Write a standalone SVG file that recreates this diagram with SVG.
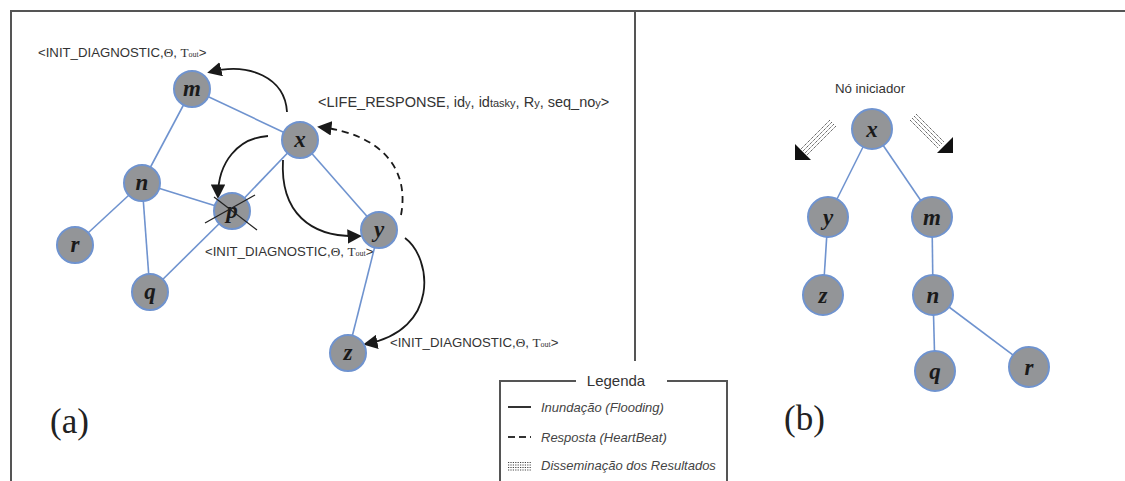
<svg xmlns="http://www.w3.org/2000/svg" width="1125" height="481" viewBox="0 0 1125 481">
  <defs>
    <style>
      .frame { stroke: #555; stroke-width: 2; fill: none; }
      .edge { stroke: #6f93cf; stroke-width: 1.6; fill: none; }
      .node circle { fill: #939598; stroke: #6f93cf; stroke-width: 2; }
      .node text { font-family: "Liberation Serif", serif; font-style: italic; font-weight: bold; font-size: 23px; fill: #1a1a1a; text-anchor: middle; }
      .arc { stroke: #1a1a1a; stroke-width: 1.8; fill: none; }
      .dash { stroke-dasharray: 7 5; }
      .lbl { font-family: "Liberation Sans", Arial, sans-serif; font-size: 13.2px; fill: #333; }
      .lbl.big { font-size: 14.5px; }
      .sub { font-family: "Liberation Serif", serif; }
      .cap { font-family: "Liberation Serif", serif; font-size: 35px; fill: #222; }
      .leg { font-family: "Liberation Sans", Arial, sans-serif; font-size: 13px; fill: #444; font-style: italic; }
      .hatch { stroke: #333; stroke-width: 0.9; stroke-dasharray: 1.2 0.8; }
    </style>
    <marker id="ahb" viewBox="0 0 10 10" refX="8" refY="5" markerWidth="8" markerHeight="8" orient="auto">
      <path d="M0,0 L10,5 L0,10 z" fill="#1a1a1a"/>
    </marker>
  </defs>

  <rect width="1125" height="481" fill="#ffffff"/>

  <!-- outer frame and panel divider -->
  <g id="frame">
    <line class="frame" x1="10" y1="11" x2="1125" y2="11"/>
    <line class="frame" x1="11" y1="10" x2="11" y2="481"/>
    <line class="frame" x1="635" y1="11" x2="635" y2="361"/>
  </g>

  <!-- panel (a): network edges -->
  <g id="edges-a">
    <line class="edge" x1="192" y1="89" x2="300" y2="140"/>
    <line class="edge" x1="192" y1="89" x2="142" y2="183"/>
    <line class="edge" x1="142" y1="183" x2="75" y2="245"/>
    <line class="edge" x1="142" y1="183" x2="150" y2="292"/>
    <line class="edge" x1="142" y1="183" x2="232" y2="211"/>
    <line class="edge" x1="232" y1="211" x2="300" y2="140"/>
    <line class="edge" x1="150" y1="292" x2="232" y2="211"/>
    <line class="edge" x1="300" y1="140" x2="379" y2="230"/>
    <line class="edge" x1="379" y1="230" x2="348" y2="353"/>
  </g>

  <!-- panel (a): message arcs -->
  <g id="connectors-a">
    <path class="arc" d="M287,112 C285,78 250,62 210,72" marker-end="url(#ahb)"/>
    <path class="arc" d="M268,136 C238,138 218,162 218,196" marker-end="url(#ahb)"/>
    <path class="arc" d="M283,160 C280,212 310,238 359,236" marker-end="url(#ahb)"/>
    <path class="arc dash" d="M401,215 C410,168 380,134 320,127" marker-end="url(#ahb)"/>
    <path class="arc" d="M405,238 C432,258 440,330 366,344" marker-end="url(#ahb)"/>
  </g>

  <!-- panel (a): nodes -->
  <g id="node-a-m" class="node"><circle cx="192" cy="89" r="18"/><text x="192" y="96">m</text></g>
  <g id="node-a-x" class="node"><circle cx="300" cy="140" r="18"/><text x="300" y="147">x</text></g>
  <g id="node-a-n" class="node"><circle cx="142" cy="183" r="18"/><text x="142" y="190">n</text></g>
  <g id="node-a-p" class="node"><circle cx="232" cy="211" r="18"/><text x="232" y="218">p</text>
    <line x1="205" y1="223" x2="255" y2="195" stroke="#222" stroke-width="1.3"/>
    <line x1="214" y1="197" x2="257" y2="230" stroke="#222" stroke-width="1.3"/>
  </g>
  <g id="node-a-r" class="node"><circle cx="75" cy="245" r="18"/><text x="75" y="252">r</text></g>
  <g id="node-a-q" class="node"><circle cx="150" cy="292" r="18"/><text x="150" y="299">q</text></g>
  <g id="node-a-y" class="node"><circle cx="379" cy="230" r="18"/><text x="379" y="237">y</text></g>
  <g id="node-a-z" class="node"><circle cx="348" cy="353" r="18"/><text x="348" y="360">z</text></g>

  <!-- panel (a): message labels -->
  <g id="labels-a">
    <text class="lbl" x="38" y="57">&lt;INIT_DIAGNOSTIC,<tspan class="sub">Θ</tspan>, <tspan class="sub">T</tspan><tspan class="sub" font-size="8">out</tspan>&gt;</text>
    <text class="lbl big" x="318" y="107">&lt;LIFE_RESPONSE, id<tspan font-size="11">y</tspan>, id<tspan font-size="11">tasky</tspan>, R<tspan font-size="11">y</tspan>, seq_no<tspan font-size="11">y</tspan>&gt;</text>
    <text class="lbl" x="205" y="256">&lt;INIT_DIAGNOSTIC,<tspan class="sub">Θ</tspan>, <tspan class="sub">T</tspan><tspan class="sub" font-size="8">out</tspan>&gt;</text>
    <text class="lbl" x="390" y="347">&lt;INIT_DIAGNOSTIC,<tspan class="sub">Θ</tspan>, <tspan class="sub">T</tspan><tspan class="sub" font-size="8">out</tspan>&gt;</text>
    <text class="cap" x="50" y="433">(a)</text>
  </g>

  <!-- legend -->
  <g id="legend">
    <polyline class="frame" points="576,381 500,381 500,481" stroke-width="1.5"/>
    <polyline class="frame" points="667,381 727,381 727,481" stroke-width="1.5"/>
    <text x="616" y="386" font-family="Liberation Sans, Arial, sans-serif" font-size="15" fill="#333" text-anchor="middle">Legenda</text>
    <line x1="508" y1="407" x2="531" y2="407" stroke="#333" stroke-width="2"/>
    <text class="leg" x="541" y="412">Inundação (Flooding)</text>
    <line x1="508" y1="437" x2="531" y2="437" stroke="#333" stroke-width="2" stroke-dasharray="7 4"/>
    <text class="leg" x="541" y="442">Resposta (HeartBeat)</text>
    <g stroke="#444" stroke-width="1.2" stroke-dasharray="1.2 1.2">
      <line x1="508" y1="462.5" x2="531" y2="462.5"/>
      <line x1="508" y1="465" x2="531" y2="465"/>
      <line x1="508" y1="467.5" x2="531" y2="467.5"/>
      <line x1="508" y1="470" x2="531" y2="470"/>
    </g>
    <text class="leg" x="541" y="470">Disseminação dos Resultados</text>
  </g>

  <!-- panel (b): tree edges -->
  <g id="edges-b">
    <line class="edge" x1="872" y1="129" x2="828" y2="217"/>
    <line class="edge" x1="872" y1="129" x2="932" y2="217"/>
    <line class="edge" x1="828" y1="217" x2="823" y2="295"/>
    <line class="edge" x1="932" y1="217" x2="933" y2="295"/>
    <line class="edge" x1="933" y1="295" x2="935" y2="371"/>
    <line class="edge" x1="933" y1="295" x2="1029" y2="367"/>
  </g>

  <!-- panel (b): dissemination arrows -->
  <g id="connectors-b">
    <g class="hatch">
      <line x1="830" y1="120" x2="801" y2="149"/>
      <line x1="832" y1="122" x2="803" y2="151"/>
      <line x1="834" y1="124" x2="805" y2="153"/>
      <line x1="836" y1="126" x2="807" y2="155"/>
    </g>
    <polygon points="795,160 795,144 811,160" fill="#111"/>
    <g class="hatch">
      <line x1="916" y1="114" x2="944" y2="142"/>
      <line x1="914" y1="116" x2="942" y2="144"/>
      <line x1="912" y1="118" x2="940" y2="146"/>
      <line x1="910" y1="120" x2="938" y2="148"/>
    </g>
    <polygon points="953,153 953,137 937,153" fill="#111"/>
  </g>

  <!-- panel (b): nodes -->
  <g id="node-b-x" class="node"><circle cx="872" cy="129" r="20"/><text x="872" y="137">x</text></g>
  <g id="node-b-y" class="node"><circle cx="828" cy="217" r="20"/><text x="828" y="225">y</text></g>
  <g id="node-b-m" class="node"><circle cx="932" cy="217" r="20"/><text x="932" y="225">m</text></g>
  <g id="node-b-z" class="node"><circle cx="823" cy="295" r="20"/><text x="823" y="303">z</text></g>
  <g id="node-b-n" class="node"><circle cx="933" cy="295" r="20"/><text x="933" y="303">n</text></g>
  <g id="node-b-q" class="node"><circle cx="935" cy="371" r="20"/><text x="935" y="379">q</text></g>
  <g id="node-b-r" class="node"><circle cx="1029" cy="367" r="20"/><text x="1029" y="375">r</text></g>

  <g id="labels-b">
    <text x="870" y="93" font-family="Liberation Sans, Arial, sans-serif" font-size="13.3" fill="#333" text-anchor="middle">Nó iniciador</text>
    <text class="cap" x="784" y="430">(b)</text>
  </g>
</svg>
